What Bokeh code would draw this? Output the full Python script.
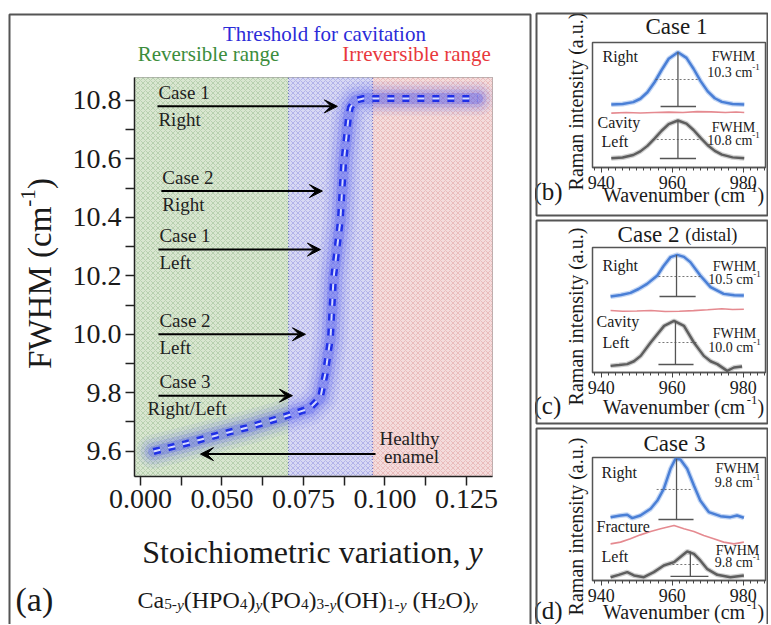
import math
from bokeh.plotting import figure
from bokeh.models import (Arrow, VeeHead, ColumnDataSource, FixedTicker, NumeralTickFormatter)
from bokeh.layouts import row, column
from bokeh.core.properties import value
from bokeh.embed import file_html
from bokeh.resources import INLINE

FONT = "Liberation Serif"

# ---------------- panel (a) data ----------------
stoich_y = [0.0290, 0.0388, 0.0483, 0.0578, 0.0673, 0.0768, 0.0802, 0.0817, 0.0833,
            0.0842, 0.0863, 0.0873, 0.0888, 0.0894, 0.0909, 0.0934, 0.1284]
fwhm_curve = [9.599, 9.626, 9.654, 9.681, 9.712, 9.746, 9.784, 9.866, 9.989,
              10.191, 10.389, 10.584, 10.742, 10.776, 10.800, 10.807, 10.807]
zone_bounds = [0.0704, 0.0962]
zone_names = ["Reversible range", "Threshold for cavitation", "Irreversible range"]
arrow_start = [0.0302, 0.0314, 0.0305, 0.0305, 0.0305, 0.0971]
arrow_end = [0.0854, 0.0808, 0.0802, 0.0756, 0.0716, 0.0434]
arrow_fwhm = [10.78, 10.49, 10.29, 10.00, 9.79, 9.59]
arrow_case = ["Case 1", "Case 2", "Case 1", "Case 2", "Case 3"]
arrow_site = ["Right", "Right", "Left", "Left", "Right/Left"]
healthy_text = ["Healthy", "enamel"]
x_major = [0.025, 0.050, 0.075, 0.100, 0.125]
x_major_labels = ["0.000", "0.050", "0.075", "0.100", "0.125"]
x_minor = [0.0375, 0.0625, 0.0875, 0.1125]
y_major = [9.6, 9.8, 10.0, 10.2, 10.4, 10.6, 10.8]
y_minor = [9.7, 9.9, 10.1, 10.3, 10.5, 10.7]

# ---------------- spectra data (b), (c), (d) ----------------
wn_major = [940, 960, 980]
wn_minor = [938, 942, 944, 946, 948, 950, 952, 954, 956, 958, 962, 964, 966, 968,
            970, 972, 974, 976, 978, 982, 984, 986]

b_right_wn = [942.8, 946, 949, 951, 953, 955, 957, 959, 961.6, 964, 966, 968, 970, 972, 974, 977, 980.3]
b_right = [0.504, 0.508, 0.523, 0.550, 0.602, 0.682, 0.780, 0.870, 0.922, 0.877, 0.790,
           0.691, 0.609, 0.554, 0.525, 0.508, 0.504]
b_mid_wn = [942.8, 947, 951, 955, 959, 963, 967, 971, 975, 978, 980.3]
b_mid = [0.435, 0.440, 0.436, 0.440, 0.443, 0.440, 0.447, 0.445, 0.440, 0.444, 0.440]
b_left_wn = b_right_wn
b_left = [0.074, 0.080, 0.100, 0.129, 0.173, 0.231, 0.294, 0.347, 0.376, 0.351, 0.300,
          0.237, 0.178, 0.133, 0.103, 0.081, 0.074]

c_right_wn = [942.6, 945.5, 948.2, 950.5, 952.9, 955.8, 957.5, 959.5, 961.4, 963.3, 965.1,
              967.9, 970.8, 974.5, 977.5, 980.2]
c_right = [0.608, 0.620, 0.637, 0.668, 0.709, 0.776, 0.850, 0.923, 0.941, 0.925, 0.883,
           0.776, 0.683, 0.629, 0.618, 0.616]
c_mid_wn = [942.6, 946, 950, 954, 958, 962, 966, 970, 974, 977, 980.2]
c_mid = [0.496, 0.490, 0.492, 0.496, 0.488, 0.490, 0.495, 0.502, 0.510, 0.504, 0.506]
c_left_wn = [942.6, 945, 947.3, 949.2, 951.1, 953.9, 957.7, 960.5, 963.3, 966.1, 968.9,
             970.8, 972.7, 975.5, 977.4, 979.7]
c_left = [0.053, 0.060, 0.067, 0.090, 0.133, 0.240, 0.373, 0.413, 0.373, 0.240, 0.133,
          0.090, 0.067, 0.013, 0.040, 0.048]

d_right_wn = [942.6, 945.4, 947.3, 948.7, 951.0, 953.9, 955.8, 957.6, 959.5, 960.9, 962.3,
              964.2, 966.1, 967.9, 970.3, 973.6, 976.4, 978.3, 980.2]
d_right = [0.515, 0.528, 0.534, 0.507, 0.528, 0.583, 0.650, 0.745, 0.908, 0.989, 0.984,
           0.908, 0.772, 0.650, 0.556, 0.523, 0.515, 0.528, 0.510]
d_mid_wn = [942.6, 945.4, 948.2, 951.0, 953.9, 956.7, 960.5, 963.3, 966.1, 968.9, 971.7,
            974.5, 977.4, 980.2]
d_mid = [0.298, 0.312, 0.339, 0.371, 0.398, 0.420, 0.447, 0.420, 0.398, 0.366, 0.339,
         0.312, 0.298, 0.312]
d_left_wn = [942.6, 944.9, 947.3, 949.2, 952.0, 954.8, 957.6, 960.5, 962.8, 964.2, 966.1,
             967.9, 969.8, 972.7, 976.4, 980.2]
d_left = [0.027, 0.046, 0.068, 0.041, 0.027, 0.068, 0.122, 0.149, 0.203, 0.236, 0.217,
          0.163, 0.095, 0.046, 0.027, 0.041]

# FWHM markers: peak position, base, peak top, bar from/to, half-max level, half from/to
mark_center = {"b": [961.6, 961.6], "c": [961.2, 960.9], "d": [961.2, 965.1]}
mark_base = {"b": [0.488, 0.072], "c": [0.608, 0.064], "d": [0.496, 0.033]}
mark_top = {"b": [0.922, 0.376], "c": [0.940, 0.413], "d": [0.990, 0.236]}
mark_bar_lo = {"b": [956.7, 956.5], "c": [956.4, 956.1], "d": [956.1, 959.5]}
mark_bar_hi = {"b": [966.7, 966.7], "c": [966.6, 966.0], "d": [966.0, 970.2]}
mark_half = {"b": [0.704, 0.224], "c": [0.768, 0.240], "d": [0.740, 0.130]}
mark_half_lo = {"b": [955.3, 954.5], "c": [956.1, 956.1], "d": [955.6, 958.9]}
mark_half_hi = {"b": [967.2, 968.1], "c": [967.9, 967.1], "d": [965.7, 967.9]}
fwhm_values = {"b": ["10.3", "10.8"], "c": ["10.5", "10.0"], "d": ["9.8", "9.8"]}
trace_names = {"b": ["Right", "Cavity", "Left"], "c": ["Right", "Cavity", "Left"],
               "d": ["Right", "Fracture", "Left"]}

# ---------------- text helpers ----------------
WID = {' ': 250, '(': 333, ')': 333, '-': 333, '.': 250, ',': 250, '/': 278,
       'A': 722, 'B': 667, 'C': 667, 'D': 722, 'E': 611, 'F': 556, 'G': 722, 'H': 722,
       'I': 333, 'L': 611, 'M': 889, 'N': 722, 'O': 722, 'P': 556, 'R': 667, 'S': 556,
       'T': 611, 'W': 944, 'a': 444, 'b': 500, 'c': 444, 'd': 500, 'e': 444, 'f': 333,
       'g': 500, 'h': 500, 'i': 278, 'l': 278, 'm': 778, 'n': 500, 'o': 500, 'p': 500,
       'r': 333, 's': 389, 't': 278, 'u': 500, 'v': 500, 'y': 500, 'k': 500}
BL = 0.37  # baseline correction of the renderer (fraction of font size)


def text_w(s, size, italic=False):
    tot = 0
    for ch in s:
        w = WID.get(ch, 500)
        if italic and ch == 'y':
            w = 444
        tot += w
    return tot * size / 1000.0


def rich(p, x, y, segs, size, color="#1a1a1a", align="center", rotated=False):
    info = []
    for s, kind in segs:
        if kind in ("sub", "sup", "subi"):
            fs = size * 0.64
        elif kind == "small":
            fs = size * 0.8
        else:
            fs = size
        italic = kind in ("i", "subi")
        if kind in ("sub", "subi"):
            shift = -0.2 * size
        elif kind == "sup":
            shift = 0.38 * size
        else:
            shift = 0.0
        lead = len(s) - len(s.lstrip(" "))
        info.append((s.strip(" "), fs, italic, shift, text_w(" " * lead, fs), text_w(s, fs, italic)))
    total = sum(i[5] for i in info)
    pos = {"left": 0.0, "center": -total / 2.0, "right": -total}[align]
    d = dict(x=[], y=[], text=[], xo=[], yo=[], fs=[], st=[], ang=[])
    for s, fs, italic, shift, lw, w in info:
        here = pos + lw
        if rotated:
            xo, yo, ang = -shift - BL * size, -here, math.pi / 2
        else:
            xo, yo, ang = here, -shift - BL * size, 0.0
        d["x"].append(x)
        d["y"].append(y)
        d["text"].append(s)
        d["xo"].append(xo)
        d["yo"].append(yo)
        d["fs"].append("%.1fpx" % fs)
        d["st"].append("italic" if italic else "normal")
        d["ang"].append(ang)
        pos += w
    src = ColumnDataSource(d)
    p.text(x="x", y="y", text="text", x_offset="xo", y_offset="yo", angle="ang",
           text_font=value(FONT), text_font_size="fs", text_font_style="st",
           text_color=color, text_align="left", text_baseline="alphabetic",
           source=src, level="overlay")


def converters(fl, fr, ft, fb, xr, yr):
    def X(px):
        return xr[0] + (px - fl) / (fr - fl) * (xr[1] - xr[0])

    def Y(py):
        return yr[1] - (py - ft) / (fb - ft) * (yr[1] - yr[0])
    return X, Y


def box(p, l, r, t, b):
    p.quad(left=[l], right=[r], top=[t], bottom=[b], fill_color=None,
           line_color="#555555", line_width=2, level="overlay")


# ---------------- panel (a) ----------------
XA = (0.02316, 0.13298)
YA = (9.5134, 10.8787)
X, Y = converters(134, 492, 77, 476, XA, YA)
ppu = 399.0 / (YA[1] - YA[0])

pa = figure(width=535, height=624, x_range=XA, y_range=YA, output_backend="svg",
            toolbar_location=None, min_border_left=134, min_border_right=43,
            min_border_top=77, min_border_bottom=148)
pa.xgrid.visible = False
pa.ygrid.visible = False
pa.outline_line_color = "#8a8a8a"
pa.outline_line_width = 1

zl = [XA[0] - 0.01] + zone_bounds
zr = zone_bounds + [XA[1] + 0.01]
pa.quad(left=zl, right=zr, bottom=YA[0] - 0.2, top=YA[1] + 0.2,
        fill_color=["#d9e6d0", "#d7d8f3", "#f4dcdc"],
        hatch_pattern="diagonal_cross", hatch_color=["#5f9455", "#4a4ad0", "#cc6666"],
        hatch_alpha=0.45, hatch_scale=5, hatch_weight=0.6, line_color=None)
pa.segment(x0=zone_bounds, x1=zone_bounds, y0=YA[0] - 0.2, y1=YA[1] + 0.2,
           line_color=["#6a7ab0", "#6a6ac0"], line_dash="1 2", line_width=1)

for w, a in [(34, 0.06), (26, 0.09), (18, 0.15), (11, 0.25)]:
    pa.line(stoich_y, fwhm_curve, line_width=w, line_alpha=a, line_color="#3a46f0",
            line_join="round", line_cap="round")
pa.line(stoich_y, fwhm_curve, line_width=7, line_color="#1f2fe6", line_dash="7 8")
pa.line(stoich_y, fwhm_curve, line_width=2, line_color="#d6daff", line_dash="7 8")

asrc = ColumnDataSource(dict(x0=arrow_start, x1=arrow_end, y=arrow_fwhm))
pa.add_layout(Arrow(end=VeeHead(size=13, fill_color="black", line_color="black", line_width=1),
                    x_start="x0", y_start="y", x_end="x1", y_end="y", source=asrc,
                    line_width=2, line_color="black"))

n_case = len(arrow_case)
top_y = [arrow_fwhm[i] + 7.0 / ppu for i in range(n_case)]
bot_y = [arrow_fwhm[i] - 20.0 / ppu for i in range(n_case)]
lab_x = [arrow_start[i] + 1.0 / 3260 for i in range(n_case)]
site_x = lab_x[:-1] + [X(147)]
ARW = dict(text_font=value(FONT), text_font_size="19px", text_baseline="alphabetic",
           text_color="#222222", y_offset=-BL * 19)
pa.text(x=lab_x, y=top_y, text=arrow_case, text_align="left", **ARW)
pa.text(x=site_x, y=bot_y, text=arrow_site, text_align="left", **ARW)
hy = arrow_fwhm[-1]
pa.text(x=[X(409), X(411)], y=[hy + 9.0 / ppu, hy - 9.0 / ppu], text=healthy_text,
        text_align="center", **ARW)

pa.xaxis.ticker = FixedTicker(ticks=x_major, minor_ticks=x_minor)
pa.xaxis.major_label_overrides = dict(zip(x_major, x_major_labels))
pa.yaxis.ticker = FixedTicker(ticks=y_major, minor_ticks=y_minor)
pa.yaxis.formatter = NumeralTickFormatter(format="0.0")
for ax in (pa.xaxis[0], pa.yaxis[0]):
    ax.axis_line_color = "#222222"
    ax.axis_line_width = 1.5
    ax.major_tick_line_color = "#222222"
    ax.minor_tick_line_color = "#222222"
    ax.major_tick_line_width = 1.5
    ax.minor_tick_line_width = 1.5
    ax.major_tick_out = 9
    ax.major_tick_in = 0
    ax.minor_tick_out = 9
    ax.minor_tick_in = 0
    ax.major_label_text_font = FONT
    ax.major_label_text_font_size = "28px"
    ax.major_label_text_color = "#1a1a1a"
    ax.major_label_standoff = 4

rich(pa, X(324), Y(41), [(zone_names[1], "n")], 21, color="#2b2bd8")
rich(pa, X(208), Y(61), [(zone_names[0], "n")], 21, color="#3c8d3c")
rich(pa, X(416), Y(61), [(zone_names[2], "n")], 21, color="#e8383c")
rich(pa, X(52), Y(273), [("FWHM (cm", "n"), ("-1", "sup"), (")", "n")], 33, rotated=True)
rich(pa, X(312), Y(563), [("Stoichiometric variation, ", "n"), ("y", "i")], 32)
rich(pa, X(137), Y(608),
     [("Ca", "n"), ("5-", "sub"), ("y", "subi"), ("(HPO", "n"), ("4", "sub"), (")", "n"),
      ("y", "subi"), ("(PO", "n"), ("4", "sub"), (")", "n"), ("3-", "sub"), ("y", "subi"),
      ("(OH)", "n"), ("1-", "sub"), ("y", "subi"), (" (H", "n"), ("2", "sub"), ("O)", "n"),
      ("y", "subi")], 24, align="left")
rich(pa, X(15), Y(612), [("(a)", "n")], 34, align="left")
box(pa, X(9), X(530), Y(14), Y(720))

# ---------------- panels (b), (c), (d) ----------------
WN = (937.5, 986.3)
specs = [
    dict(key="b", letter="(b)", h=218, top=42, bottom=51, frame=(42, 167), box=(13, 215),
         title=[("Case 1", "n")], tx=676, tb=35, ry=101, lb=200, wb=202,
         names=[(602, 62), (597, 128), (601, 147)], fx=733, fw=[(61, 77), (132, 145)],
         right=(b_right_wn, b_right), mid=(b_mid_wn, b_mid), left=(b_left_wn, b_left)),
    dict(key="c", letter="(c)", h=208, top=29, bottom=54, frame=(247, 372), box=(220, 423),
         title=[("Case 2 ", "n"), ("(distal)", "small")], tx=677, tb=243, ry=316, lb=414,
         wb=414, names=[(602, 271), (596, 327), (602, 348)], fx=734,
         fw=[(271, 284), (338, 352)],
         right=(c_right_wn, c_right), mid=(c_mid_wn, c_mid), left=(c_left_wn, c_left)),
    dict(key="d", letter="(d)", h=198, top=31, bottom=44, frame=(457, 580), box=(428, 720),
         title=[("Case 3", "n")], tx=674, tb=452, ry=526, lb=619, wb=619,
         names=[(601, 478), (596, 532), (601, 562)], fx=737, fw=[(473, 487), (555, 567)],
         right=(d_right_wn, d_right), mid=(d_mid_wn, d_mid), left=(d_left_wn, d_left)),
]

small = []
for s in specs:
    k = s["key"]
    ft, fb = s["frame"]
    SX, SY = converters(592, 765, ft, fb, WN, (0, 1))
    p = figure(width=233, height=s["h"], x_range=WN, y_range=(0, 1), y_axis_location=None,
               output_backend="svg", toolbar_location=None, min_border_left=57,
               min_border_right=3, min_border_top=s["top"], min_border_bottom=s["bottom"])
    p.xgrid.visible = False
    p.ygrid.visible = False
    p.outline_line_color = "#555555"
    p.outline_line_width = 1.5
    ax = p.xaxis[0]
    ax.ticker = FixedTicker(ticks=wn_major, minor_ticks=wn_minor)
    ax.axis_line_color = "#555555"
    ax.axis_line_width = 1.5
    ax.major_tick_line_color = "#444444"
    ax.minor_tick_line_color = "#444444"
    ax.major_tick_out = 5
    ax.major_tick_in = 0
    ax.minor_tick_out = 3
    ax.minor_tick_in = 0
    ax.major_label_text_font = FONT
    ax.major_label_text_font_size = "18px"
    ax.major_label_text_color = "#1a1a1a"
    ax.major_label_standoff = 3

    p.line(*s["right"], line_width=5, line_color="#7aa3e6", line_alpha=0.45)
    p.line(*s["right"], line_width=2.5, line_color="#4a7fd6")
    p.line(*s["mid"], line_width=1.6, line_color="#e27d84", line_alpha=0.9)
    p.line(*s["left"], line_width=5, line_color="#8a8a8a", line_alpha=0.4)
    p.line(*s["left"], line_width=2.5, line_color="#5e5e5e")

    p.segment(x0=mark_center[k], x1=mark_center[k], y0=mark_base[k], y1=mark_top[k],
              line_color="#555555", line_width=1.3)
    p.segment(x0=mark_bar_lo[k], x1=mark_bar_hi[k], y0=mark_base[k], y1=mark_base[k],
              line_color="#555555", line_width=1.3)
    p.segment(x0=mark_half_lo[k], x1=mark_half_hi[k], y0=mark_half[k], y1=mark_half[k],
              line_color="#555555", line_width=0.8, line_dash="2 2")

    for (nx, nb), name in zip(s["names"], trace_names[k]):
        rich(p, SX(nx), SY(nb), [(name, "n")], 16, align="left")
    for (b1, b2), val in zip(s["fw"], fwhm_values[k]):
        rich(p, SX(s["fx"]), SY(b1), [("FWHM", "n")], 14)
        rich(p, SX(s["fx"]), SY(b2), [(val + " cm", "n"), ("-1", "sup")], 14)

    rich(p, SX(s["tx"]), SY(s["tb"]), s["title"], 23)
    rich(p, SX(583), SY(s["ry"]), [("Raman intensity (a.u.)", "n")], 20, rotated=True)
    rich(p, SX(533), SY(s["lb"]), [(s["letter"], "n")], 25, align="left")
    rich(p, SX(683), SY(s["wb"]), [("Wavenumber (cm", "n"), ("-1", "sup"), (")", "n")], 20)
    bt, bb = s["box"]
    box(p, SX(536), SX(767), SY(bt), SY(bb))
    small.append(p)

layout = row(pa, column(*small))
open("out.html", "w").write(file_html(layout, INLINE))
